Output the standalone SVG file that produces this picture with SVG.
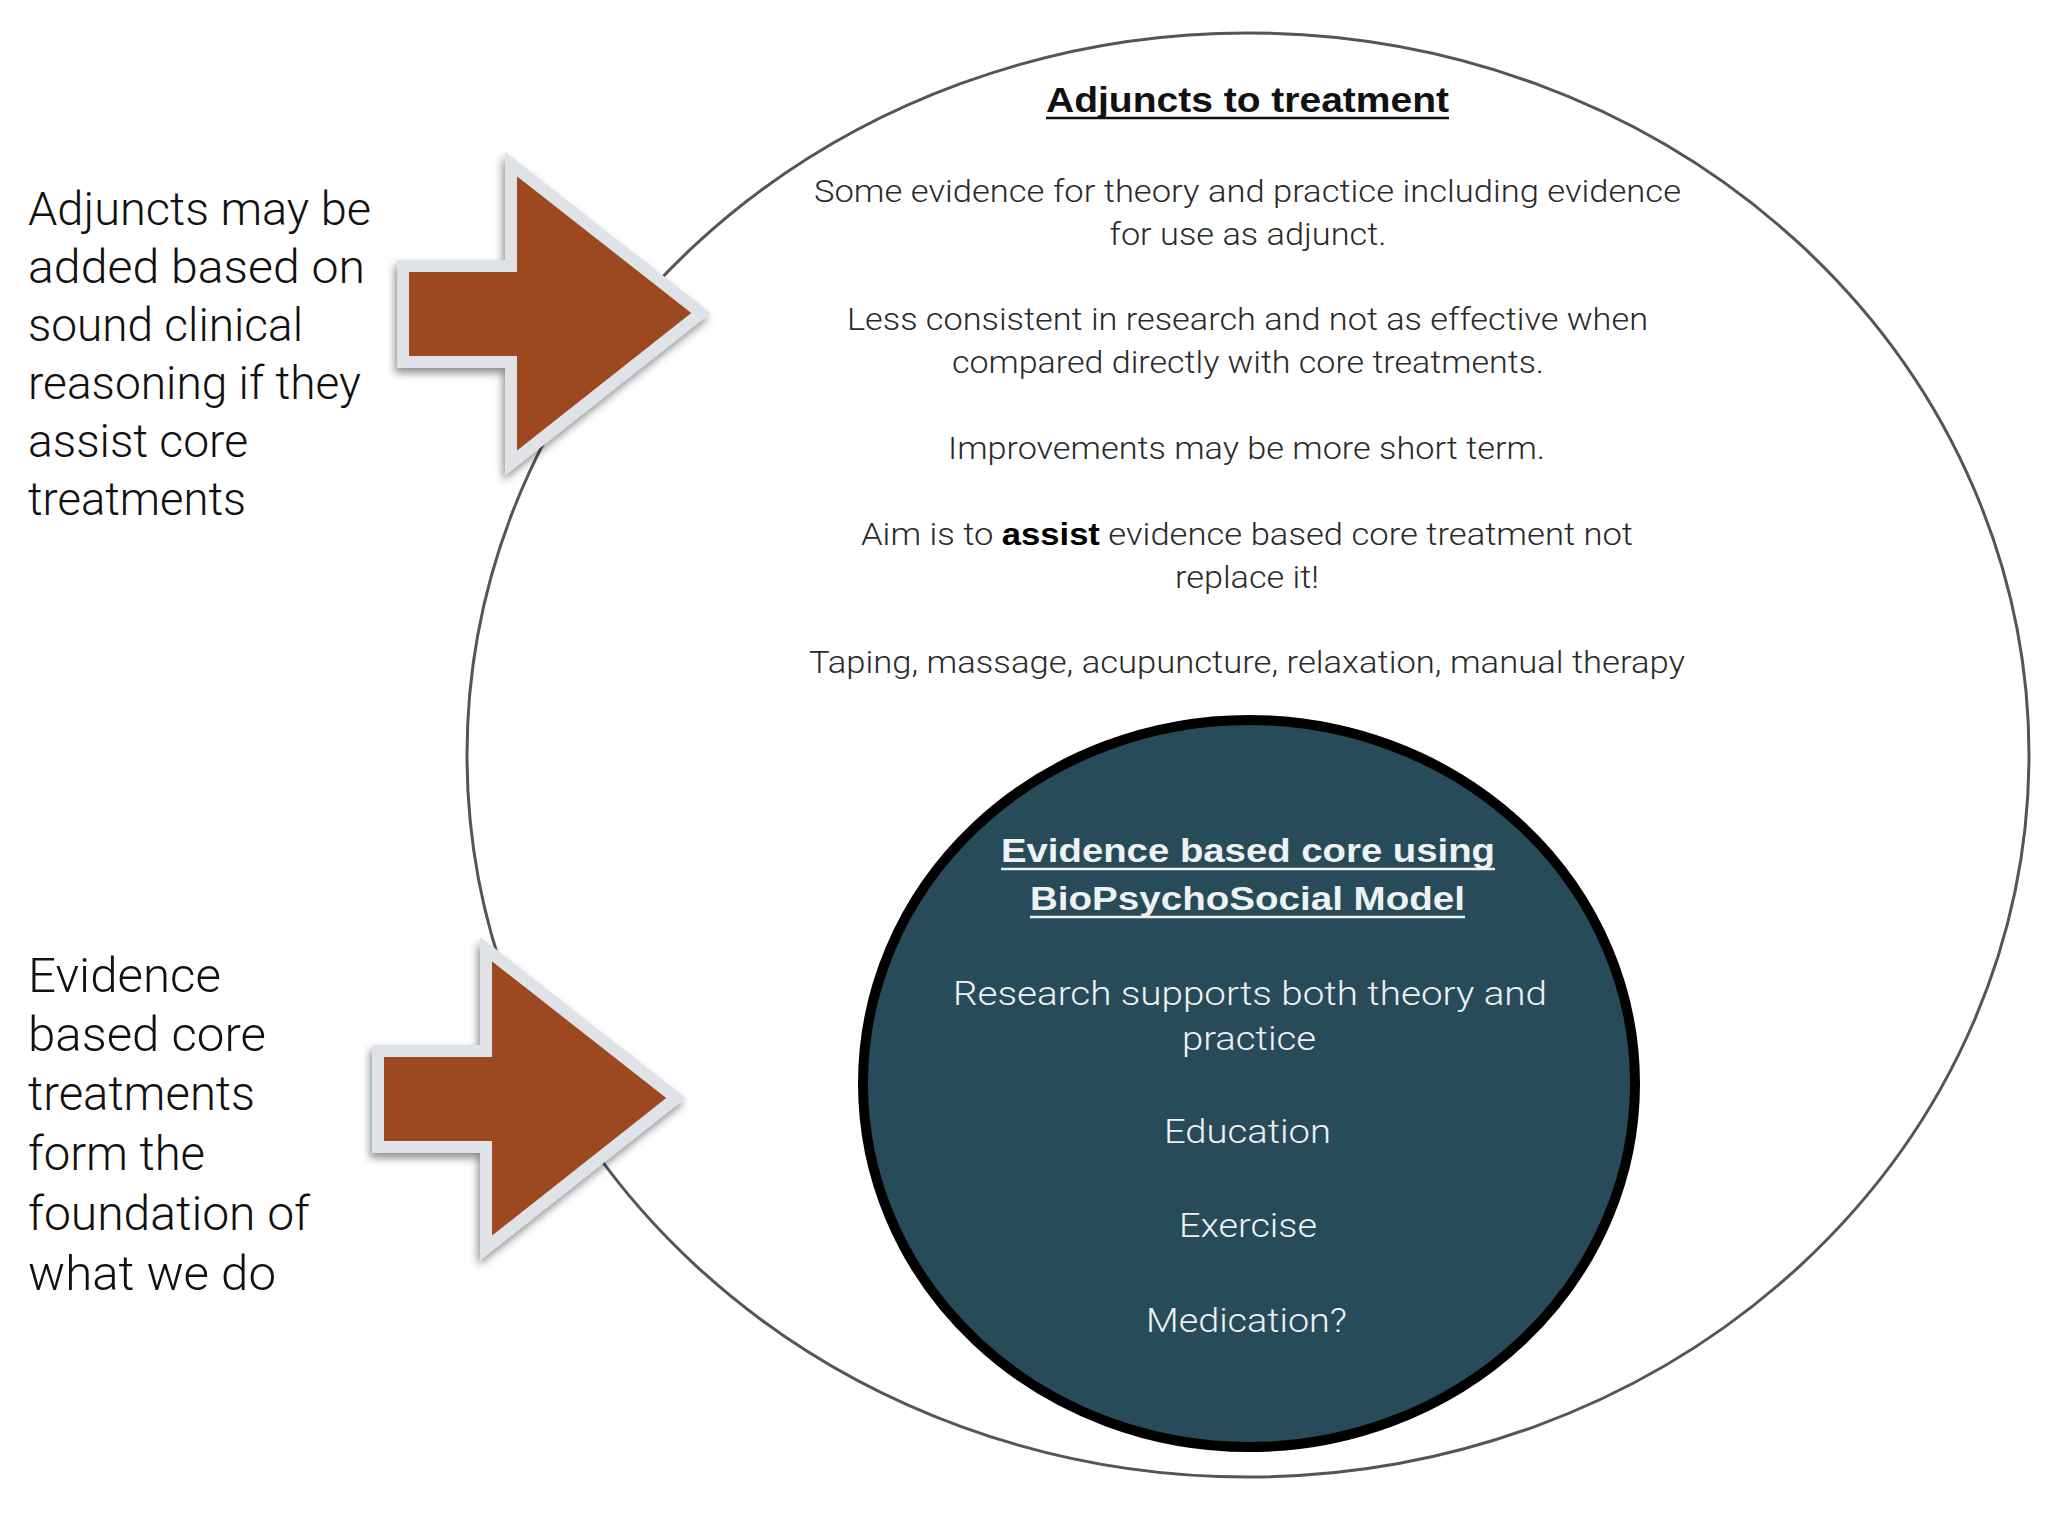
<svg xmlns="http://www.w3.org/2000/svg" width="2048" height="1536" viewBox="0 0 2048 1536">
<defs>
<style>
.lt{font-family:Roboto,"Liberation Sans",Arial,sans-serif;font-weight:300;}
.bd{font-family:"Liberation Sans",Arial,sans-serif;font-weight:700;}
.side{fill:#111;font-size:46px;}
.adj{fill:#2a2a2a;font-size:31px;}
.core{fill:#eef2f3;font-size:34px;}
.arrow{fill:#9c4a20;stroke:#dfe2e7;stroke-width:12;stroke-linejoin:miter;filter:url(#sh);}
</style>
<filter id="sh" x="-20%" y="-20%" width="140%" height="140%">
<feDropShadow dx="-2" dy="5" stdDeviation="4" flood-color="#000" flood-opacity="0.45"/>
</filter>
<path id="blockArrow" d="M403,266 L511,266 L511,164 L701,313 L511,463 L511,362 L403,362 Z"/>
</defs>
<rect width="2048" height="1536" fill="#fff"/>

<g id="node-adjuncts">
<ellipse cx="1248" cy="755" rx="781" ry="722" fill="#fff" stroke="#555" stroke-width="3"/>
<text class="bd" x="1247.5" y="112" font-size="35" fill="#111" text-anchor="middle" textLength="403" lengthAdjust="spacingAndGlyphs">Adjuncts to treatment</text>
<line x1="1046" y1="118" x2="1449" y2="118" stroke="#111" stroke-width="2.5"/>
<g class="lt adj" text-anchor="middle">
<text x="1247.5" y="202" textLength="867" lengthAdjust="spacingAndGlyphs">Some evidence for theory and practice including evidence</text>
<text x="1248" y="245" textLength="277" lengthAdjust="spacingAndGlyphs">for use as adjunct.</text>
<text x="1247.5" y="330" textLength="801" lengthAdjust="spacingAndGlyphs">Less consistent in research and not as effective when</text>
<text x="1248" y="373" textLength="592" lengthAdjust="spacingAndGlyphs">compared directly with core treatments.</text>
<text x="1246.5" y="459" textLength="597" lengthAdjust="spacingAndGlyphs">Improvements may be more short term.</text>
<text x="1247" y="545" textLength="772" lengthAdjust="spacingAndGlyphs">Aim is to <tspan class="bd" fill="#000">assist</tspan> evidence based core treatment not</text>
<text x="1247" y="588" textLength="144" lengthAdjust="spacingAndGlyphs">replace it!</text>
<text x="1247" y="673" textLength="876" lengthAdjust="spacingAndGlyphs">Taping, massage, acupuncture, relaxation, manual therapy</text>
</g>
</g>

<g id="node-core">
<ellipse cx="1249" cy="1083.5" rx="386" ry="363.5" fill="#284b59" stroke="#000" stroke-width="10"/>
<text class="bd" x="1248" y="862" font-size="34" fill="#eef2f3" text-anchor="middle" textLength="494" lengthAdjust="spacingAndGlyphs">Evidence based core using</text>
<line x1="1001" y1="869" x2="1495" y2="869" stroke="#eef2f3" stroke-width="2.5"/>
<text class="bd" x="1247.5" y="910" font-size="34" fill="#eef2f3" text-anchor="middle" textLength="435" lengthAdjust="spacingAndGlyphs">BioPsychoSocial Model</text>
<line x1="1030" y1="917" x2="1465" y2="917" stroke="#eef2f3" stroke-width="2.5"/>
<g class="lt core" text-anchor="middle">
<text x="1250" y="1005" textLength="594" lengthAdjust="spacingAndGlyphs">Research supports both theory and</text>
<text x="1249" y="1050" textLength="134" lengthAdjust="spacingAndGlyphs">practice</text>
<text x="1247.5" y="1143" textLength="167" lengthAdjust="spacingAndGlyphs">Education</text>
<text x="1248" y="1237" textLength="138" lengthAdjust="spacingAndGlyphs">Exercise</text>
<text x="1246.5" y="1332" textLength="201" lengthAdjust="spacingAndGlyphs">Medication?</text>
</g>
</g>

<g id="connectors">
<use href="#blockArrow" class="arrow"/>
<use href="#blockArrow" class="arrow" transform="translate(-25,785)"/>
</g>

<g id="node-label-adjuncts" class="lt side">
<text x="28" y="225" textLength="343" lengthAdjust="spacingAndGlyphs">Adjuncts may be</text>
<text x="28" y="283" textLength="337" lengthAdjust="spacingAndGlyphs">added based on</text>
<text x="28" y="341" textLength="275" lengthAdjust="spacingAndGlyphs">sound clinical</text>
<text x="28" y="399" textLength="333" lengthAdjust="spacingAndGlyphs">reasoning if they</text>
<text x="28" y="457" textLength="220" lengthAdjust="spacingAndGlyphs">assist core</text>
<text x="28" y="515" textLength="218" lengthAdjust="spacingAndGlyphs">treatments</text>
</g>

<g id="node-label-core" class="lt side" style="font-size:48px">
<text x="28" y="992" textLength="193" lengthAdjust="spacingAndGlyphs">Evidence</text>
<text x="28" y="1051" textLength="238" lengthAdjust="spacingAndGlyphs">based core</text>
<text x="28" y="1110" textLength="227" lengthAdjust="spacingAndGlyphs">treatments</text>
<text x="28" y="1170" textLength="177" lengthAdjust="spacingAndGlyphs">form the</text>
<text x="28" y="1230" textLength="282" lengthAdjust="spacingAndGlyphs">foundation of</text>
<text x="28" y="1290" textLength="248" lengthAdjust="spacingAndGlyphs">what we do</text>
</g>
</svg>
